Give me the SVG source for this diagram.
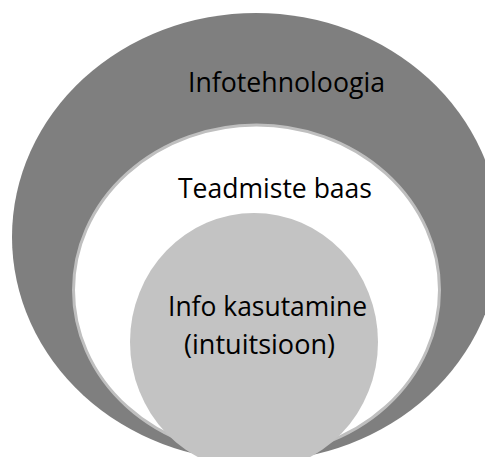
<svg xmlns="http://www.w3.org/2000/svg" width="485" height="457" viewBox="0 0 485 457">
<style>
.lbl{font-family:"Open Sans","Noto Sans","Liberation Sans",sans-serif;fill:#000;font-size:26.6px}
</style>
<rect width="485" height="457" fill="#fff"/>
<g id="outer">
<ellipse cx="256" cy="237" rx="244" ry="224" fill="#7f7f7f"/>
<text class="lbl" x="188" y="92" textLength="197" lengthAdjust="spacingAndGlyphs">Infotehnoloogia</text>
</g>
<g id="middle">
<ellipse cx="256.5" cy="290" rx="183" ry="165" fill="#fff" stroke="#bfbfbf" stroke-width="3"/>
<text class="lbl" x="178" y="198" textLength="194" lengthAdjust="spacingAndGlyphs">Teadmiste baas</text>
</g>
<g id="inner">
<ellipse cx="254" cy="342" rx="124" ry="129" fill="#c3c3c3"/>
<text class="lbl" x="168" y="316" textLength="199" lengthAdjust="spacingAndGlyphs">Info kasutamine</text>
<text class="lbl" x="184" y="354" textLength="151" lengthAdjust="spacingAndGlyphs">(intuitsioon)</text>
</g>
<g id="connectors"/>
</svg>
